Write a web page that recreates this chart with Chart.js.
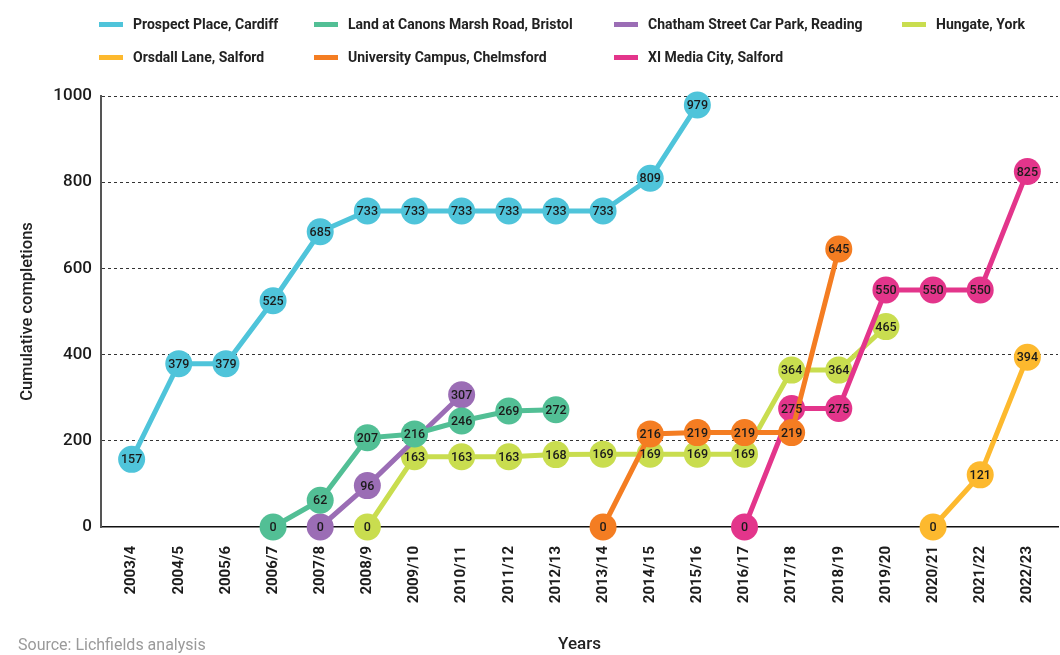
<!DOCTYPE html>
<html>
<head>
<meta charset="utf-8">
<script src="https://cdn.jsdelivr.net/npm/chart.js@4.4.1/dist/chart.umd.min.js"></script>
<style>
  body { margin: 0; background: #fff; }
  #wrap { position: relative; width: 1060px; height: 655px; font-family: Roboto, "Liberation Sans", sans-serif; }
  #chart { position: absolute; left: 0; top: 0; }
  .leg { position: absolute; display: flex; align-items: center; height: 18px; font-size: 14px; font-weight: 700; color: #222; white-space: nowrap; }
  .leg span.sw { display: inline-block; width: 24px; height: 5px; margin-right: 10px; }
  #source { position: absolute; left: 18px; top: 635px; font-size: 16px; color: #9a9a9a; }
</style>
</head>
<body>
<div id="wrap">
  <canvas id="chart" width="1060" height="655"></canvas>
  <div id="legend"></div>
  <div id="source">Source: Lichfields analysis</div>
</div>
<script>
// x axis categories
const years = ['2003/4', '2004/5', '2005/6', '2006/7', '2007/8', '2008/9', '2009/10', '2010/11', '2011/12', '2012/13',
               '2013/14', '2014/15', '2015/16', '2016/17', '2017/18', '2018/19', '2019/20', '2020/21', '2021/22', '2022/23'];

// cumulative completions per site (null = no data that year)
const prospectPlace = [157, 379, 379, 525, 685, 733, 733, 733, 733, 733, 733, 809, 979, null, null, null, null, null, null, null];
const canonsMarsh   = [null, null, null, 0, 62, 207, 216, 246, 269, 272, null, null, null, null, null, null, null, null, null, null];
const chathamStreet = [null, null, null, null, 0, 96, null, 307, null, null, null, null, null, null, null, null, null, null, null, null];
const hungate       = [null, null, null, null, null, 0, 163, 163, 163, 168, 169, 169, 169, 169, 364, 364, 465, null, null, null];
const orsdallLane   = [null, null, null, null, null, null, null, null, null, null, null, null, null, null, null, null, null, 0, 121, 394];
const uniCampus     = [null, null, null, null, null, null, null, null, null, null, 0, 216, 219, 219, 219, 645, null, null, null, null];
const xiMediaCity   = [null, null, null, null, null, null, null, null, null, null, null, null, null, 0, 275, 275, 550, 550, 550, 825];

const yTicks = [0, 200, 400, 600, 800, 1000];

// legend layout follows the reference (two rows, four columns)
const series = [
  { name: 'Prospect Place, Cardiff', values: prospectPlace, color: '#4fc4da', legendPos: [99, 24], layer: 0 },
  { name: 'Land at Canons Marsh Road, Bristol', values: canonsMarsh, color: '#52bf95', legendPos: [314, 24], layer: 1 },
  { name: 'Chatham Street Car Park, Reading', values: chathamStreet, color: '#9b6db5', legendPos: [614, 24], layer: 2 },
  { name: 'Hungate, York', values: hungate, color: '#c9dd4f', legendPos: [902, 24], layer: 5 },
  { name: 'Orsdall Lane, Salford', values: orsdallLane, color: '#fdb92e', legendPos: [99, 57], layer: 6 },
  { name: 'University Campus, Chelmsford', values: uniCampus, color: '#f47d22', legendPos: [314, 57], layer: 3 },
  { name: 'XI Media City, Salford', values: xiMediaCity, color: '#e3358b', legendPos: [614, 57], layer: 4 }
];

const legendEl = document.getElementById('legend');
series.forEach(function (s) {
  const d = document.createElement('div');
  d.className = 'leg';
  d.style.left = s.legendPos[0] + 'px';
  d.style.top = (s.legendPos[1] - 9) + 'px';
  d.innerHTML = '<span class="sw" style="background:' + s.color + '"></span>' + s.name;
  legendEl.appendChild(d);
});

// values written inside the markers, on top of every line
const pointLabels = {
  id: 'pointLabels',
  afterDatasetsDraw: function (chart) {
    const ctx = chart.ctx;
    ctx.save();
    ctx.font = '500 12.5px Roboto, sans-serif';
    ctx.fillStyle = '#1b1b1b';
    ctx.textAlign = 'center';
    ctx.textBaseline = 'middle';
    chart.data.datasets.forEach(function (ds, di) {
      chart.getDatasetMeta(di).data.forEach(function (pt, i) {
        ctx.fillText(String(ds.data[i].y), pt.x, pt.y + 1);
      });
    });
    ctx.restore();
  }
};

const datasets = series.map(function (s) {
  return {
    label: s.name,
    data: s.values.map(function (v, i) { return v === null ? null : { x: i, y: v }; }).filter(Boolean),
    borderColor: s.color,
    backgroundColor: s.color,
    pointBackgroundColor: s.color,
    pointBorderWidth: 0,
    pointRadius: 13.5,
    pointHoverRadius: 13.5,
    borderWidth: 5,
    tension: 0,
    clip: false,
    order: s.layer
  };
});

new Chart(document.getElementById('chart'), {
  type: 'line',
  data: { datasets: datasets },
  plugins: [pointLabels],
  options: {
    responsive: false,
    animation: false,
    devicePixelRatio: 1,
    layout: { autoPadding: false, padding: { top: 96, right: 2, left: 0, bottom: 0 } },
    plugins: {
      legend: { display: false },
      tooltip: { enabled: false }
    },
    scales: {
      x: {
        type: 'linear',
        min: -0.65,
        max: 19.65,
        afterBuildTicks: function (scale) {
          scale.ticks = years.map(function (_, i) { return { value: i }; });
        },
        afterFit: function (scale) {
          scale.height = 128;
          scale.paddingLeft = 0;
          scale.paddingRight = 0;
        },
        grid: { display: false, drawTicks: false },
        border: { display: true, color: '#111', width: 1.5 },
        ticks: {
          autoSkip: false,
          maxRotation: 90,
          minRotation: 90,
          padding: 19,
          color: '#1b1b1b',
          font: { family: 'Roboto', size: 15, weight: 'bold' },
          callback: function (value) { return years[value]; }
        },
        title: {
          display: true,
          text: 'Years',
          color: '#222',
          font: { family: 'Roboto', size: 17, weight: '500' },
          padding: { top: 0, bottom: 0 }
        }
      },
      y: {
        min: 0,
        max: 1000,
        afterBuildTicks: function (scale) {
          scale.ticks = yTicks.map(function (v) { return { value: v }; });
        },
        afterFit: function (scale) {
          scale.width = 101;
          scale.paddingTop = 0;
          scale.paddingBottom = 0;
        },
        grid: {
          drawTicks: false,
          color: function (c) { return c.tick && c.tick.value === 0 ? 'rgba(0,0,0,0)' : '#333'; },
          lineWidth: 1
        },
        border: { display: true, color: '#555', width: 2, dash: [3, 3] },
        ticks: {
          padding: 9,
          color: '#1b1b1b',
          font: { family: 'Roboto', size: 17, weight: '500' },
          callback: function (value) { return String(value); }
        },
        title: {
          display: true,
          text: 'Cumulative completions',
          color: '#222',
          font: { family: 'Roboto', size: 16.5, weight: '500' },
          padding: { top: 18, bottom: 0 }
        }
      }
    }
  }
});
</script>
</body>
</html>
